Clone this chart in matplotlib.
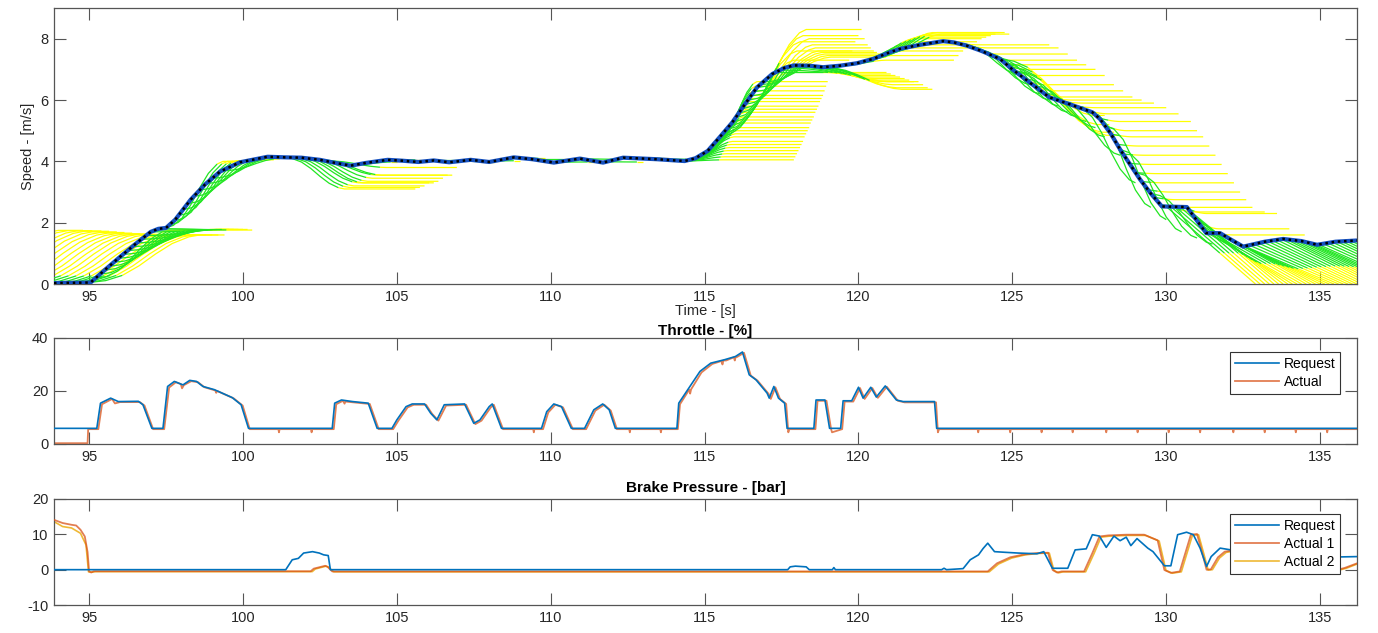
import numpy as np
import matplotlib
matplotlib.use('Agg')
import matplotlib.pyplot as plt
from matplotlib.collections import LineCollection

plt.rcParams['font.family'] = ['Liberation Sans', 'DejaVu Sans']
plt.rcParams['axes.unicode_minus'] = False

# ---- measured speed [m/s] ----
SPEED_T = [93.86, 95.05, 95.5, 96.0, 96.5, 97.0, 97.25, 97.5, 97.8, 98.3,
           98.77, 99.26, 99.9, 100.55, 100.8, 101.4, 101.9, 102.5, 103.0, 103.5,
           104.0, 104.7, 105.2, 105.7, 106.2, 106.7, 107.4, 108.0, 108.8, 109.4,
           110.1, 110.95, 111.7, 112.35, 113.45, 114.35, 114.7, 115.1, 115.5, 115.9,
           116.3, 116.7, 117.2, 117.6, 117.9, 118.4, 118.85, 119.4, 119.95, 120.5,
           121.0, 121.35, 122.0, 122.75, 123.1, 123.5, 124.0, 124.6, 125.0, 125.7,
           126.2, 126.9, 127.6, 127.85, 128.2, 128.5, 129.15, 129.5, 129.86, 130.67,
           130.9, 131.3, 131.75, 132.1, 132.5, 133.2, 133.8, 134.4, 134.9, 135.5,
           136.2]
SPEED_V = [0.03, 0.05, 0.45, 0.88, 1.3, 1.7, 1.8, 1.83, 2.1, 2.75,
           3.25, 3.67, 3.97, 4.1, 4.15, 4.13, 4.12, 4.05, 3.95, 3.86,
           3.95, 4.05, 4.02, 3.98, 4.03, 3.97, 4.05, 3.98, 4.13, 4.07,
           3.96, 4.09, 3.96, 4.12, 4.07, 4.01, 4.1, 4.34, 4.8, 5.27,
           5.85, 6.41, 6.85, 7.05, 7.13, 7.12, 7.07, 7.12, 7.2, 7.35,
           7.55, 7.67, 7.8, 7.92, 7.88, 7.78, 7.6, 7.34, 7.0, 6.47,
           6.09, 5.85, 5.6, 5.38, 4.9, 4.39, 3.41, 2.95, 2.53, 2.51,
           2.2, 1.66, 1.66, 1.45, 1.22, 1.38, 1.47, 1.4, 1.28, 1.38,
           1.42]

# ---- predicted speed trajectories (start time, end level) ----
# normalised shape of one prediction
PROF_U = [0, 0.15, 0.3, 0.45, 0.6, 0.75, 0.9, 1.0]
PROF_S = [0, 0.04, 0.15, 0.35, 0.6, 0.82, 0.96, 1.0]
PROF_EASE = [0, 0.25, 0.47, 0.65, 0.8, 0.91, 0.98, 1.0]
PROF_LIN = [0, 0.15, 0.3, 0.45, 0.6, 0.75, 0.9, 1.0]

G1_T0 = [90.4, 90.7, 91.0, 91.25, 91.5, 91.75, 92.0, 92.25, 92.5, 92.75, 93.0, 93.25,
         93.5, 93.75, 94.0, 94.2, 94.4, 94.6, 94.8, 95.0]
G1_END = [1.75, 1.74, 1.73, 1.72, 1.7, 1.68, 1.66, 1.64, 1.63, 1.62, 1.62, 1.61,
          1.6, 1.6, 1.6, 1.6, 1.6, 1.6, 1.6, 1.6]
G2_T0 = [95.2, 95.35, 95.5, 95.65, 95.8, 95.95, 96.1, 96.25, 96.4, 96.55, 96.7,
         96.85, 97.0, 97.15, 97.3]
G2_END = [1.75, 1.75, 1.76, 1.76, 1.76, 1.77, 1.77, 1.77, 1.77, 1.78, 1.78,
          1.78, 1.78, 1.78, 1.76]
G3_T0 = [97.45, 97.6, 97.75, 97.9, 98.05, 98.2, 98.4, 98.6, 98.8, 99.0, 99.3]
G3_END = [4.0, 4.0, 4.0, 4.02, 4.02, 4.03, 4.05, 4.05, 4.08, 4.1, 4.1]
G4_T0 = [101.3, 101.45, 101.6, 101.75, 101.9, 102.05, 102.2, 102.35, 102.5, 102.65]
G4_END = [3.1, 3.15, 3.2, 3.3, 3.3, 3.35, 3.45, 3.55, 3.55, 3.8]
G5_T0 = [114.3, 114.35, 114.4, 114.45, 114.5, 114.55, 114.6, 114.65, 114.7, 114.75,
         114.8, 114.85, 114.9, 114.95, 115.0, 115.05, 115.1, 115.15, 115.2, 115.25,
         115.3, 115.35, 115.4]
G5_END = [4.05, 4.15, 4.25, 4.35, 4.45, 4.55, 4.65, 4.8, 4.9, 5.0,
          5.1, 5.25, 5.35, 5.45, 5.6, 5.7, 5.8, 5.95, 6.05, 6.15,
          6.3, 6.45, 6.6]
G6_T0 = [115.5, 115.6, 115.7, 115.8, 115.9, 116.0, 116.1, 116.2, 116.3, 116.4,
         116.5, 116.6, 116.7, 116.8, 116.9]
G6_END = [6.9, 7.1, 7.3, 7.6, 7.9, 8.1, 8.3, 8.0, 7.8, 7.7,
          7.6, 7.55, 7.5, 7.45, 7.4]
G7_T0 = [117.3, 117.45, 117.6, 117.75, 117.9, 118.05, 118.2, 118.35, 118.5, 118.65, 118.8]
G7_END = [6.9, 6.85, 6.8, 6.75, 6.7, 6.65, 6.6, 6.6, 6.5, 6.4, 6.35]
G8_T0 = [119.3, 119.45, 119.6, 119.75, 119.9, 120.05, 120.2, 120.35, 120.5, 120.65,
         120.8, 120.95, 121.1]
G8_END = [7.3, 7.45, 7.6, 7.7, 7.8, 7.9, 8.0, 8.05, 8.1, 8.15, 8.2, 8.2, 8.15]
G9_T0 = [123.2, 123.5, 123.8, 124.1, 124.4, 124.7, 125.0, 125.3, 125.6, 125.9,
         126.2, 126.6, 127.0, 127.4, 127.8, 128.0, 128.2, 128.4, 128.6, 128.8,
         129.0, 129.2, 129.4, 129.6, 129.8, 130.2, 130.6, 131.0, 131.5]
G9_END = [7.8, 7.7, 7.5, 7.3, 7.15, 7.0, 6.8, 6.5, 6.3, 6.1,
          6.0, 5.9, 5.75, 5.55, 5.3, 5.0, 4.8, 4.5, 4.2, 3.9,
          3.6, 3.3, 3.0, 2.75, 2.5, 2.35, 2.3, 1.8, 1.6]
G10_T0 = [123.3, 123.6, 123.9, 124.2, 124.5, 124.8, 125.1, 125.4, 125.7, 126.0,
          126.5, 127.0, 127.5, 128.0, 128.5, 129.0, 129.5]
G10_END = [6.8, 6.5, 6.2, 6.0, 5.8, 5.6, 5.45, 5.3, 5.1, 4.8,
           4.2, 3.3, 2.5, 2.1, 1.7, 1.5, 1.3]
G11_T0 = [124.6, 124.75, 124.9, 125.05]
G11_END = [5.5, 5.2, 4.95, 4.85]
G12_T0 = [130.0, 130.15, 130.3, 130.45, 130.6, 130.75, 130.9, 131.05, 131.2, 131.35,
          131.5, 131.65, 131.8, 131.95, 132.1, 132.25, 132.4, 132.55, 132.7, 132.85,
          133.0, 133.15, 133.3, 133.45, 133.6, 133.75, 133.9, 134.05, 134.2, 134.35,
          134.5, 134.65, 134.8, 134.95, 135.1, 135.25, 135.4, 135.55, 135.7, 135.85,
          136.0, 136.15]
G12_END = [0.0] * len(G12_T0)
G13_T0 = [103.8, 104.6, 105.4, 106.2, 107.0, 107.8, 108.6, 109.4, 110.2, 111.0,
          111.8, 112.6, 113.4]
G13_END = [3.98, 4.05, 4.0, 4.03, 3.99, 4.02, 4.1, 4.07, 3.98, 4.07, 3.98, 4.1, 4.07]

# ---- throttle [%] ----
THR_REQ_T = [93.86, 95.25, 95.37, 95.7, 95.95, 96.6, 96.75, 97.04, 97.4, 97.55,
             97.77, 98.05, 98.27, 98.49, 98.7, 99.07, 99.65, 99.94, 100.18, 102.9,
             102.98, 103.2, 103.56, 104.07, 104.36, 104.84, 105.0, 105.3, 105.5, 105.9,
             106.1, 106.3, 106.54, 107.2, 107.5, 107.7, 108.0, 108.1, 108.4, 109.7,
             109.87, 110.1, 110.35, 110.67, 111.1, 111.4, 111.69, 111.9, 112.1, 114.1,
             114.16, 114.85, 115.2, 115.65, 116.0, 116.23, 116.45, 116.67, 117.03, 117.1,
             117.25, 117.4, 117.6, 117.68, 118.55, 118.62, 118.91, 119.06, 119.42, 119.5,
             119.78, 120.0, 120.15, 120.4, 120.58, 120.87, 121.23, 121.45, 122.47, 122.54,
             136.2]
THR_REQ_V = [5.9, 5.9, 15.4, 17.3, 16.0, 16.1, 14.8, 5.9, 5.9, 21.7,
             23.6, 22.3, 24.0, 23.6, 21.7, 20.5, 17.5, 14.8, 5.9, 5.9,
             15.4, 16.6, 16.0, 15.4, 5.9, 5.9, 9.1, 14.1, 15.1, 15.1,
             11.6, 9.1, 14.8, 15.1, 7.8, 9.1, 14.1, 15.1, 5.9, 5.9,
             12.2, 15.1, 14.1, 5.9, 5.9, 12.9, 15.1, 12.9, 5.9, 5.9,
             15.4, 27.4, 30.5, 31.8, 33.0, 34.7, 26.1, 24.2, 19.2, 17.3,
             21.7, 17.3, 15.4, 5.9, 5.9, 16.6, 16.6, 5.9, 5.9, 16.3,
             16.3, 21.4, 17.3, 21.4, 17.7, 21.9, 16.6, 16.0, 16.0, 5.9,
             5.9]
THR_ACT_T = [93.86, 94.95, 94.97, 95.3, 95.42, 95.75, 95.8, 95.84, 96.0, 96.65,
             96.8, 97.08, 97.44, 97.6, 97.82, 97.98, 98.02, 98.08, 98.32, 98.54,
             98.75, 99.1, 99.13, 99.16, 99.7, 99.99, 100.22, 102.95, 103.03, 103.25,
             103.3, 103.33, 103.6, 104.12, 104.41, 104.88, 105.05, 105.35, 105.55, 105.95,
             106.15, 106.35, 106.6, 107.25, 107.55, 107.75, 108.05, 108.15, 108.45, 109.75,
             109.92, 110.15, 110.4, 110.72, 111.15, 111.45, 111.74, 111.95, 112.15, 114.13,
             114.2, 114.5, 114.53, 114.56, 114.9, 115.25, 115.55, 115.58, 115.61, 115.7,
             115.95, 115.98, 116.01, 116.05, 116.28, 116.5, 116.72, 117.08, 117.15, 117.3,
             117.45, 117.65, 117.72, 117.75, 118.6, 118.67, 118.96, 119.11, 119.14, 119.47,
             119.55, 119.83, 120.05, 120.2, 120.45, 120.63, 120.92, 121.28, 121.5, 122.52,
             122.58, 122.62, 136.2]
THR_ACT_V = [0.3, 0.3, 5.6, 5.6, 15.0, 17.0, 16.0, 15.3, 15.8, 15.8,
             14.5, 5.6, 5.6, 21.3, 23.3, 22.6, 21.0, 22.2, 23.7, 23.3,
             21.4, 20.2, 19.3, 20.0, 17.2, 14.5, 5.6, 5.6, 15.0, 16.3,
             15.2, 16.0, 15.7, 15.1, 5.6, 5.6, 8.8, 13.8, 14.8, 14.8,
             11.3, 8.8, 14.5, 14.8, 7.5, 8.8, 13.8, 14.8, 5.6, 5.6,
             11.9, 14.8, 13.8, 5.6, 5.6, 12.6, 14.8, 12.6, 5.6, 5.6,
             15.0, 20.5, 19.0, 20.6, 27.0, 30.2, 31.3, 30.0, 31.5, 31.5,
             32.7, 31.5, 32.8, 32.8, 34.4, 25.8, 23.9, 18.9, 17.0, 21.4,
             17.0, 15.1, 4.4, 5.6, 5.6, 16.3, 16.3, 5.6, 4.4, 5.6,
             16.0, 16.0, 21.1, 17.0, 21.1, 17.4, 21.6, 16.3, 15.7, 15.7,
             4.4, 5.6, 5.6]
THR_ACT_SPIKES = [101.17, 102.23, 109.45, 112.57, 113.58, 123.89, 124.93, 125.95,
                  126.96, 128.05, 129.07, 130.08, 131.1, 132.18, 133.2, 134.21, 135.23]
THR_IDLE = 5.6
THR_SPIKE_LOW = 4.4

# ---- brake pressure [bar] ----
BRK_REQ_T = [93.86, 101.39, 101.6, 101.8, 101.97, 102.26, 102.48, 102.62, 102.77, 102.84,
             117.7, 117.78, 117.95, 118.3, 118.4, 119.15, 119.2, 119.25, 122.7, 122.78,
             122.86, 123.4, 123.63, 123.9, 124.05, 124.2, 124.42, 124.79, 125.2, 125.8,
             126.02, 126.3, 126.8, 127.04, 127.4, 127.6, 127.83, 128.05, 128.3, 128.5,
             128.7, 128.85, 129.05, 129.4, 129.57, 129.94, 130.15, 130.37, 130.66, 130.88,
             131.1, 131.31, 131.46, 131.75, 132.1, 132.5, 133.0, 133.5, 134.5, 135.2,
             135.6, 136.2]
BRK_REQ_V = [0.0, 0.0, 2.8, 3.2, 4.7, 5.1, 4.7, 4.2, 4.0, 0.0,
             0.0, 0.8, 1.0, 0.8, 0.0, 0.0, 0.6, 0.0, 0.0, 0.4,
             0.0, 0.3, 2.8, 4.2, 6.0, 7.5, 5.1, 4.9, 4.7, 4.5,
             5.1, 0.4, 0.4, 5.6, 5.9, 9.9, 9.5, 6.3, 9.5, 8.2,
             9.2, 6.8, 8.8, 6.1, 5.1, 1.1, 1.1, 9.9, 10.6, 9.9,
             6.1, 0.9, 3.7, 6.1, 5.6, 3.5, 2.0, 0.5, 0.3, 2.5,
             3.6, 3.7]
BRK_A1_T = [93.86, 94.14, 94.43, 94.58, 94.72, 94.86, 94.95, 95.0, 95.07, 95.15,
            102.2, 102.3, 102.67, 102.75, 102.9, 124.2, 124.5, 124.93, 125.37, 125.8,
            126.16, 126.31, 126.45, 126.6, 127.33, 127.6, 127.83, 128.12, 128.7, 129.28,
            129.72, 129.94, 130.15, 130.44, 130.8, 131.0, 131.17, 131.31, 131.45, 131.68,
            131.9, 132.26, 132.6, 133.0, 133.3, 134.9, 135.1, 135.4, 135.8, 136.2]
BRK_A1_V = [14.1, 13.2, 12.7, 12.5, 11.3, 9.4, 5.0, -0.5, -0.8, -0.45,
            -0.45, 0.3, 1.1, 0.8, -0.5, -0.5, 1.8, 3.5, 4.3, 4.7,
            4.8, -0.1, -0.8, -0.5, -0.5, 4.7, 9.4, 9.7, 9.9, 9.9,
            8.3, -0.1, -0.9, -0.5, 9.9, 10.1, 4.7, 0.0, 0.1, 3.5,
            5.1, 5.6, 5.5, 2.0, -0.3, -0.5, -0.8, -0.4, 0.5, 1.8]
BRK_A2_T = [93.86, 94.14, 94.43, 94.72, 94.9, 94.98, 95.1, 95.2, 102.25, 102.35,
            102.7, 102.78, 102.95, 124.25, 124.55, 124.98, 125.42, 125.85, 126.2, 126.35,
            126.5, 126.65, 127.38, 127.65, 127.88, 128.17, 128.75, 129.33, 129.77, 129.99,
            130.2, 130.49, 130.85, 131.05, 131.22, 131.36, 131.5, 131.73, 131.95, 132.31,
            132.65, 133.05, 133.35, 134.95, 135.15, 135.45, 135.85, 136.2]
BRK_A2_V = [13.6, 12.2, 11.8, 10.3, 7.0, -0.6, -0.7, -0.55, -0.55, 0.2,
            1.0, 0.7, -0.6, -0.6, 1.6, 3.3, 4.2, 4.6, 4.7, -0.2,
            -0.9, -0.6, -0.6, 4.5, 9.2, 9.5, 9.7, 9.7, 8.1, -0.2,
            -1.0, -0.6, 9.7, 9.9, 4.5, -0.1, 0.0, 3.3, 4.9, 5.4,
            5.3, 1.8, -0.4, -0.6, -0.9, -0.5, 0.4, 1.6]

XLIM = (93.86, 136.2)
XTICKS = [95, 100, 105, 110, 115, 120, 125, 130, 135]

BLUE = '#0072BD'
ORANGE = '#D95319'
GOLD = '#EDB120'
GREEN = '#22e622'
YELLOW = '#ffff00'
AXC = '#555555'
TXT = '#262626'

# (start times, end levels, rise time, horizon, green vertices, shape)
groups = [
    (G1_T0, G1_END, 3.6, 4.4, 2, PROF_S),
    (G2_T0, G2_END, 2.4, 3.0, 6, PROF_S),
    (G3_T0, G3_END, 1.9, 2.4, 6, PROF_S),
    (G4_T0, G4_END, 2.0, 4.3, 6, PROF_S),
    (G5_T0, G5_END, 1.3, 3.6, 6, PROF_S),
    (G6_T0, G6_END, 2.2, 4.0, 4, PROF_S),
    (G7_T0, G7_END, 2.6, 3.6, 4, PROF_S),
    (G8_T0, G8_END, 1.6, 3.8, 5, PROF_S),
    (G9_T0, G9_END, 0.7, 3.0, 3, PROF_EASE),
    (G10_T0, G10_END, 2.0, 2.0, 7, PROF_S),
    (G11_T0, G11_END, 3.0, 3.4, 2, PROF_S),
    (G12_T0, G12_END, 2.9, 2.9, 4, PROF_LIN),
    (G13_T0, G13_END, 1.0, 1.2, 7, PROF_S),
]


def prediction(t0, v_end, rise, horizon, prof):
    v0 = np.interp(t0, SPEED_T, SPEED_V)
    ts = [t0 + u * rise for u in PROF_U]
    vs = [v0 + f * (v_end - v0) for f in prof]
    if horizon > rise:
        ts.append(t0 + horizon)
        vs.append(v_end)
    return list(zip(ts, vs))


def style_axes(ax, ylim, yticks):
    ax.set_xlim(*XLIM)
    ax.set_ylim(*ylim)
    ax.set_xticks(XTICKS)
    ax.set_yticks(yticks)
    ax.tick_params(direction='in', length=8.5, width=0.8, top=True, right=True,
                   labelsize=10.5, colors=AXC, labelcolor=TXT, pad=4)
    for s in ax.spines.values():
        s.set_color(AXC)
        s.set_linewidth(0.9)


def matlab_legend(ax, top):
    leg = ax.legend(loc='upper right', bbox_to_anchor=(0.987, top), fontsize=10,
                    frameon=True, fancybox=False, framealpha=1, edgecolor='#333333',
                    handlelength=3.2, handletextpad=0.3, borderpad=0.35,
                    labelspacing=0.3, borderaxespad=0)
    leg.get_frame().set_linewidth(0.8)
    leg.set_zorder(10)
    return leg


fig = plt.figure(figsize=(13.78, 6.33), dpi=100)
ax1 = fig.add_axes([0.0392, 0.5513, 0.9456, 0.4360])
ax2 = fig.add_axes([0.0392, 0.2986, 0.9456, 0.1675])
ax3 = fig.add_axes([0.0392, 0.0442, 0.9456, 0.1675])

# speed + predictions
yellow_segs, green_segs = [], []
for t0s, ends, rise, hor, ng, prof in groups:
    assert len(t0s) == len(ends)
    for t0, ve in zip(t0s, ends):
        pts = prediction(t0, ve, rise, hor, prof)
        if ng > 0:
            green_segs.append(pts[:ng + 1])
        if ng < len(pts) - 1:
            yellow_segs.append(pts[ng:])
ax1.add_collection(LineCollection(yellow_segs, colors=YELLOW, linewidths=0.9, zorder=2))
ax1.add_collection(LineCollection(green_segs, colors=GREEN, linewidths=0.9, zorder=3))
ax1.plot(SPEED_T, SPEED_V, color='#1450c0', lw=3.0, zorder=4, solid_capstyle='butt')
ax1.plot(SPEED_T, SPEED_V, color='black', lw=1.8, ls=(0, (1.0, 1.5)), zorder=5)
style_axes(ax1, (0, 9), [0, 2, 4, 6, 8])
ax1.set_ylabel('Speed - [m/s]', fontsize=10.5, color=TXT, labelpad=4)
ax1.set_xlabel('Time - [s]', fontsize=10.5, color=TXT, labelpad=0)

# throttle
act = list(zip(THR_ACT_T, THR_ACT_V))
for s in THR_ACT_SPIKES:
    act += [(s - 0.02, THR_IDLE), (s, THR_SPIKE_LOW), (s + 0.02, THR_IDLE)]
act.sort()
ax2.plot(THR_REQ_T, THR_REQ_V, color=BLUE, lw=1.2, label='Request', zorder=3)
ax2.plot([p[0] for p in act], [p[1] for p in act], color=ORANGE, lw=1.3,
         alpha=0.75, label='Actual', zorder=2)
style_axes(ax2, (0, 40), [0, 20, 40])
ax2.set_title('Throttle - [%]', fontsize=11, fontweight='bold', color='black', pad=2)
matlab_legend(ax2, 0.868)

# brake pressure
assert len(BRK_REQ_T) == len(BRK_REQ_V)
assert len(BRK_A1_T) == len(BRK_A1_V)
assert len(BRK_A2_T) == len(BRK_A2_V)
ax3.plot(BRK_REQ_T, BRK_REQ_V, color=BLUE, lw=1.2, label='Request', zorder=4)
ax3.plot(BRK_A1_T, BRK_A1_V, color=ORANGE, lw=1.3, alpha=0.75, label='Actual 1', zorder=3)
ax3.plot(BRK_A2_T, BRK_A2_V, color=GOLD, lw=1.2, alpha=0.9, label='Actual 2', zorder=2)
style_axes(ax3, (-10, 20), [-10, 0, 10, 20])
ax3.set_title('Brake Pressure - [bar]', fontsize=11, fontweight='bold', color='black', pad=5)
matlab_legend(ax3, 0.858)

fig.savefig('out.png', dpi=100)
